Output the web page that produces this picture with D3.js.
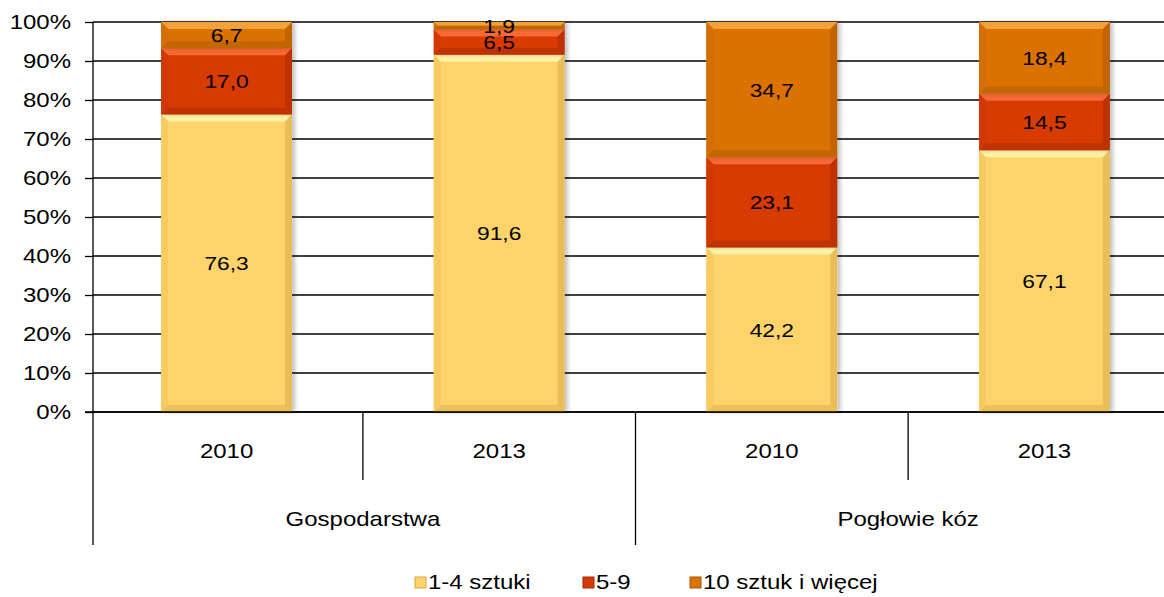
<!DOCTYPE html>
<html lang="pl">
<head>
	<meta charset="utf-8">
	<script src="https://d3js.org/d3.v7.min.js"></script>
	<style>
		body { margin: 0; background: #fff; }
		text { font-family: "Liberation Sans", Arial, sans-serif; fill: #000; }
	</style>
</head>
<body>
<svg width="1164" height="597"></svg>
<script>
	// data
	var groups = ["Gospodarstwa", "Pogłowie kóz"];
	var years = ["2010", "2013"];
	var seriesNames = ["1-4 sztuki", "5-9", "10 sztuk i więcej"];
	var small = [76.3, 91.6, 42.2, 67.1];   // 1-4 sztuki
	var medium = [17.0, 6.5, 23.1, 14.5];  // 5-9
	var large = [6.7, 1.9, 34.7, 18.4];    // 10 sztuk i więcej
	var yTicks = [0, 10, 20, 30, 40, 50, 60, 70, 80, 90, 100];

	var colors = [
		{ base: "#FDD46C", light: "#FFF3A6", dark: "#D9A947", side: "#F5CB62" },
		{ base: "#D83A06", light: "#F66A36", dark: "#A52B05", side: "#D23806" },
		{ base: "#DB7206", light: "#F3A139", dark: "#A95805", side: "#D46E06" }
	];

	var svg = d3.select("svg");
	var plotLeft = 93, plotRight = 1178, plotTop = 22, plotBottom = 412;
	var sx = 1.2; // text in the picture is a bit wide

	function label(sel, px, py, txt, size, anchor) {
		return sel.append("text")
			.attr("transform", "translate(" + px + "," + py + ") scale(" + sx + ",1)")
			.attr("text-anchor", anchor || "middle")
			.attr("dy", "0.36em")
			.style("font-size", size + "px")
			.text(txt);
	}

	var cats = [];
	groups.forEach(function(g) { years.forEach(function(y) { cats.push(g + "|" + y); }); });

	var x = d3.scaleBand().domain(cats).range([plotLeft, plotRight]).paddingInner(0.52).paddingOuter(0.25);
	var y = d3.scaleLinear().domain([0, 100]).range([plotBottom, plotTop]);

	var defs = svg.append("defs");
	var f = defs.append("filter").attr("id", "shadow").attr("x", "-10%").attr("y", "-10%").attr("width", "130%").attr("height", "130%");
	f.append("feDropShadow").attr("dx", 3).attr("dy", 0).attr("stdDeviation", 2).attr("flood-color", "#000").attr("flood-opacity", 0.25);

	// gridlines
	svg.append("g").selectAll("line").data(yTicks).enter().append("line")
		.attr("x1", plotLeft).attr("x2", 1164)
		.attr("y1", function(d) { return y(d); }).attr("y2", function(d) { return y(d); })
		.attr("stroke", "#000").attr("stroke-width", 1.3);

	// y axis
	var yAxis = d3.axisLeft(y).tickValues(yTicks).tickSize(8).tickPadding(0)
		.tickFormat(function(d) { return d + "%"; });
	var ya = svg.append("g").attr("transform", "translate(" + plotLeft + ",0)").call(yAxis);
	ya.select(".domain").remove();
	ya.selectAll(".tick line").attr("stroke", "#000").attr("stroke-width", 1.3);
	ya.selectAll("text").style("font-size", "20px").attr("fill", "#000")
		.attr("x", -22 / sx).attr("transform", "scale(" + sx + ",1)");

	// stacks
	var rows = cats.map(function(c, i) { return { cat: c, a: small[i], b: medium[i], c: large[i] }; });
	var stacked = d3.stack().keys(["a", "b", "c"])(rows);

	var bw = x.bandwidth(), bev = 7;
	var bars = svg.append("g");
	var labels = svg.append("g");
	stacked.forEach(function(layer, si) {
		var col = colors[si];
		layer.forEach(function(d) {
			var x0 = x(d.data.cat), x1 = x0 + bw;
			var y0 = y(d[1]), y1 = y(d[0]);
			var h = y1 - y0;
			var b = Math.min(bev, h / 2);
			var g = bars.append("g");
			g.append("rect").attr("x", x0).attr("y", y0).attr("width", bw).attr("height", h)
				.attr("fill", col.base).attr("filter", "url(#shadow)");
			// bevel edges
			g.append("path").attr("fill", col.light)
				.attr("d", "M" + x0 + "," + y0 + "L" + x1 + "," + y0 + "L" + (x1 - b) + "," + (y0 + b) + "L" + (x0 + b) + "," + (y0 + b) + "Z");
			g.append("path").attr("fill", col.dark).attr("opacity", 0.5)
				.attr("d", "M" + x0 + "," + y1 + "L" + x1 + "," + y1 + "L" + (x1 - b) + "," + (y1 - b) + "L" + (x0 + b) + "," + (y1 - b) + "Z");
			g.append("path").attr("fill", col.side)
				.attr("d", "M" + x0 + "," + y0 + "L" + (x0 + b) + "," + (y0 + b) + "L" + (x0 + b) + "," + (y1 - b) + "L" + x0 + "," + y1 + "Z");
			g.append("path").attr("fill", col.dark).attr("opacity", 0.55)
				.attr("d", "M" + x1 + "," + y0 + "L" + (x1 - b) + "," + (y0 + b) + "L" + (x1 - b) + "," + (y1 - b) + "L" + x1 + "," + y1 + "Z");
			label(labels, x0 + bw / 2, (y0 + y1) / 2, d3.format(".1f")(d[1] - d[0]).replace(".", ","), 19);
		});
	});

	// x axis lines
	var ax = svg.append("g").attr("stroke", "#000").attr("stroke-width", 1.3);
	ax.append("line").attr("x1", 85).attr("x2", 1164).attr("y1", plotBottom).attr("y2", plotBottom);
	ax.append("line").attr("x1", plotLeft).attr("x2", plotLeft).attr("y1", plotTop).attr("y2", 545);
	cats.forEach(function(c, i) {
		if (i === 0) return;
		var xb = (x(cats[i - 1]) + bw + x(c)) / 2;
		ax.append("line").attr("x1", xb).attr("x2", xb).attr("y1", plotBottom)
			.attr("y2", i % years.length === 0 ? 545 : 480);
	});

	// year labels
	var xl = svg.append("g");
	cats.forEach(function(c) { label(xl, x(c) + bw / 2, 451, c.split("|")[1], 20); });

	// group labels
	groups.forEach(function(g) {
		var a = x(g + "|" + years[0]) + bw / 2, b = x(g + "|" + years[years.length - 1]) + bw / 2;
		label(xl, (a + b) / 2, 519, g, 20);
	});

	// legend
	var legX = [415, 583, 690];
	var leg = svg.append("g");
	seriesNames.forEach(function(s, i) {
		leg.append("rect").attr("x", legX[i]).attr("y", 577).attr("width", 11).attr("height", 11)
			.attr("fill", colors[i].base).attr("stroke", colors[i].dark).attr("stroke-width", 1);
		label(leg, legX[i] + 13, 582, s, 20, "start");
	});
</script>
</body>
</html>
